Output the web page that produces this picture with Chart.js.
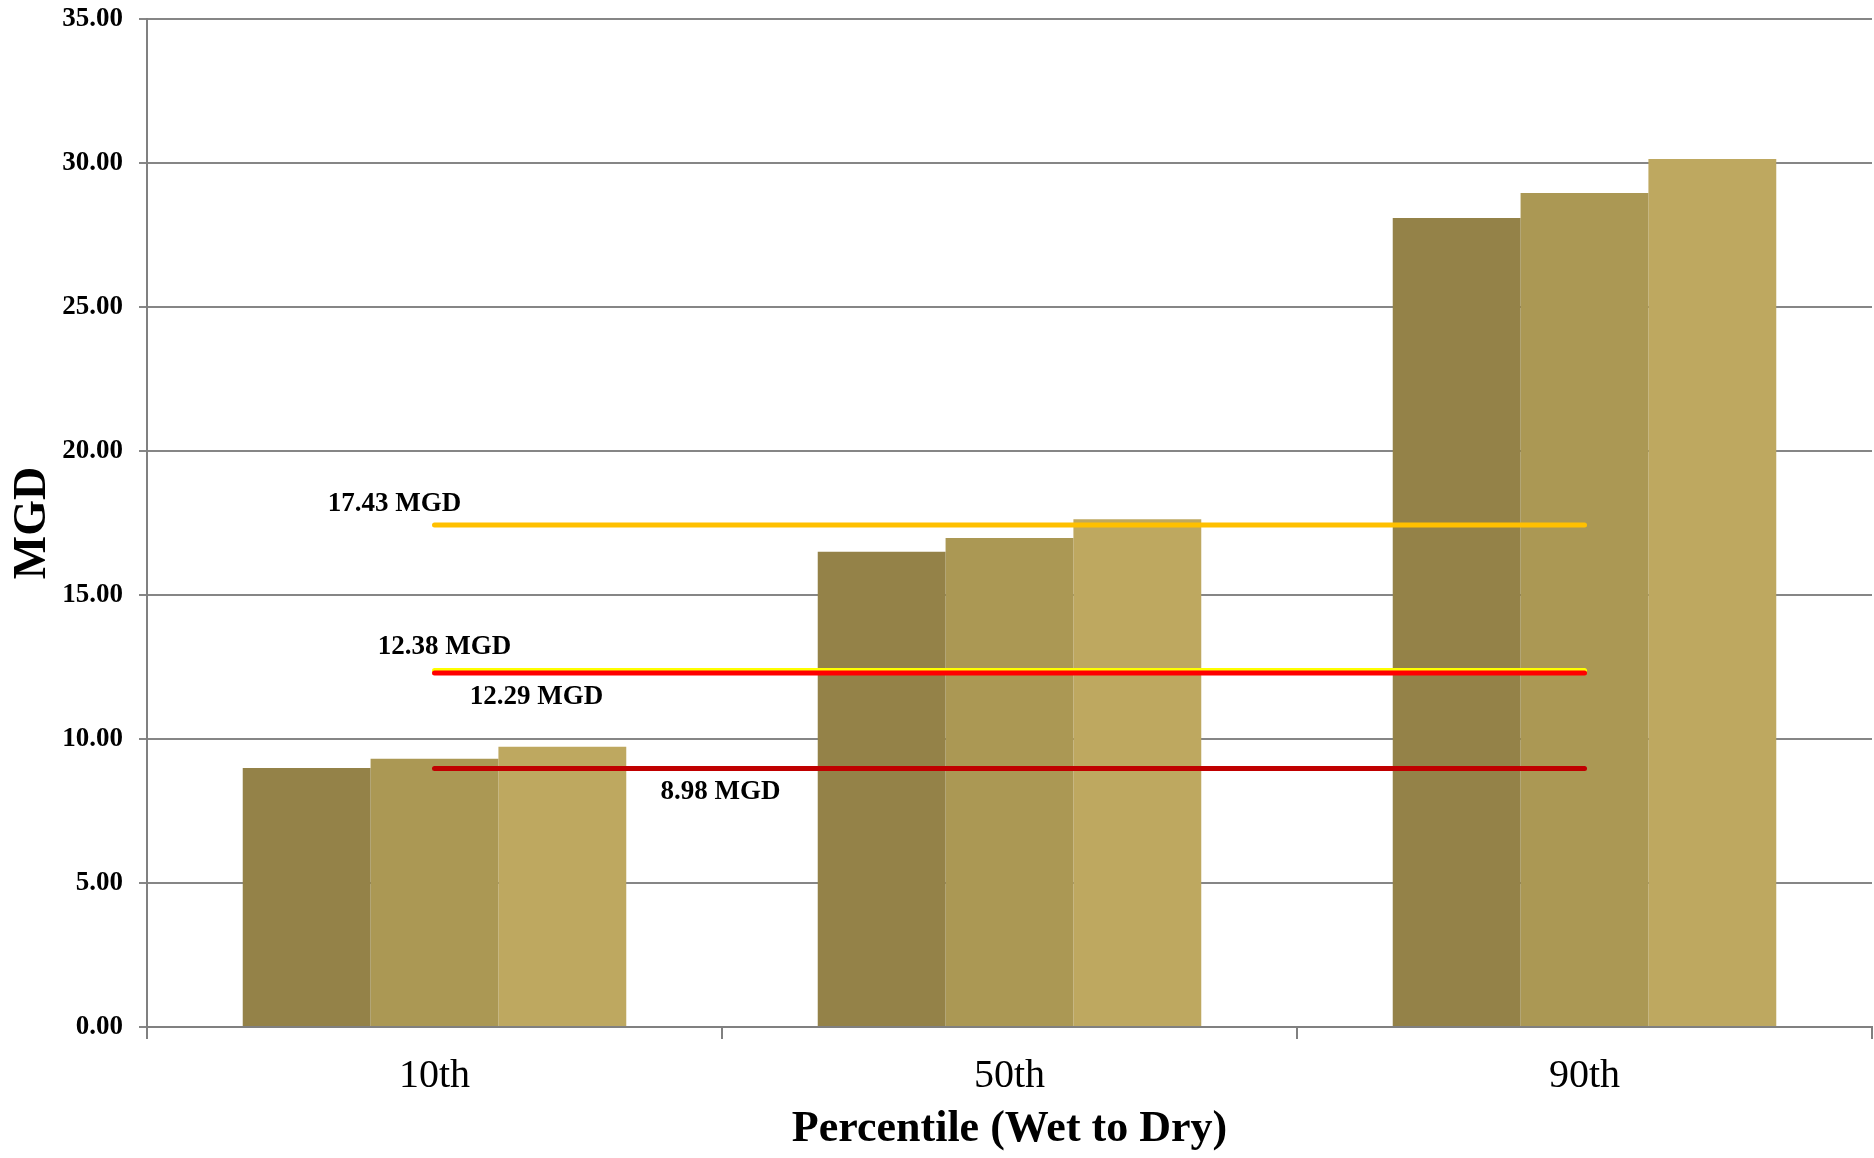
<!DOCTYPE html>
<html lang="en">
<head>
    <meta charset="UTF-8">
    <title>MGD by Percentile</title>
    <script src="https://cdn.jsdelivr.net/npm/chart.js"></script>
    <style>
      html, body { margin: 0; padding: 0; background: #fff; }
      #wrap { width: 1874px; height: 1158px; }
    </style>
</head>
<body>
    <div id="wrap"><canvas id="bar-chart"></canvas></div>
    <script>
      // dados
      const categories = ['10th', '50th', '90th'];
      const serieA = [8.99, 16.50, 28.09];
      const serieB = [9.31, 16.98, 28.96];
      const serieC = [9.73, 17.63, 30.14];
      const lineValues = [17.43, 12.38, 12.29, 8.98];
      const lineLabels = ['17.43 MGD', '12.38 MGD', '12.29 MGD', '8.98 MGD'];
      const yTicks = [0, 5, 10, 15, 20, 25, 30, 35];

      const barColors = ['#948248', '#ab9854', '#bea860'];
      const lineColors = ['#ffc000', '#ffff00', '#ff0000', '#c00000'];
      // deslocamento de cada rotulo em relacao ao inicio da linha (px)
      const labelOffsets = [[-40, -21], [10, -23], [102, 24], [286, 24]];
      const lineOrder = [1, 2, 0, 0];

      const serif = "'Liberation Serif', 'DejaVu Serif', serif";

      const lineSets = lineValues.map((v, i) => ({
        type: 'line',
        label: lineLabels[i],
        data: categories.map(() => v),
        borderColor: lineColors[i],
        borderWidth: 5,
        borderCapStyle: 'round',
        pointRadius: 0,
        fill: false,
        order: lineOrder[i]
      }));

      const barSets = [serieA, serieB, serieC].map((d, i) => ({
        type: 'bar',
        label: 'S' + (i + 1),
        data: d,
        backgroundColor: barColors[i],
        barPercentage: 1,
        categoryPercentage: 0.667,
        order: 5
      }));

      const lineLabelPlugin = {
        id: 'lineLabels',
        afterDatasetsDraw(chart) {
          const ctx = chart.ctx;
          const x = chart.scales.x, y = chart.scales.y;
          ctx.save();
          ctx.font = 'bold 27px ' + serif;
          ctx.fillStyle = '#000';
          ctx.textAlign = 'center';
          ctx.textBaseline = 'middle';
          lineValues.forEach((v, i) => {
            const px = x.getPixelForValue(0) + labelOffsets[i][0];
            const py = y.getPixelForValue(v) + labelOffsets[i][1];
            ctx.fillText(lineLabels[i], px, py);
          });
          ctx.restore();
        }
      };

      new Chart(document.getElementById('bar-chart').getContext('2d'), {
        data: {
          labels: categories,
          datasets: lineSets.concat(barSets)
        },
        options: {
          responsive: true,
          maintainAspectRatio: false,
          animation: false,
          layout: { padding: { top: 19, right: 2, left: 0, bottom: 0 } },
          plugins: {
            legend: { display: false },
            tooltip: { enabled: false }
          },
          scales: {
            x: {
              offset: true,
              grid: {
                offset: true,
                drawOnChartArea: false,
                color: '#808080',
                lineWidth: 2,
                tickLength: 12
              },
              border: { color: '#808080', width: 2 },
              ticks: {
                color: '#000',
                padding: 13,
                font: { family: serif, size: 40 }
              },
              title: {
                display: true,
                text: 'Percentile (Wet to Dry)',
                color: '#000',
                padding: { top: 0, bottom: 2 },
                font: { family: serif, size: 44, weight: 'bold' }
              },
              afterFit(s) { s.height = 131; }
            },
            y: {
              min: 0,
              max: 35,
              afterBuildTicks(s) { s.ticks = yTicks.map(v => ({ value: v })); },
              grid: {
                color: '#868686',
                lineWidth: 2,
                tickLength: 8
              },
              border: { color: '#808080', width: 2 },
              ticks: {
                color: '#000',
                padding: 16,
                font: { family: serif, size: 27, weight: 'bold' },
                callback: v => Number(v).toFixed(2)
              },
              title: {
                display: true,
                text: 'MGD',
                color: '#000',
                padding: { top: 6, bottom: 0 },
                font: { family: serif, size: 46, weight: 'bold' }
              },
              afterFit(s) {
                s.width = 147;
                s.paddingTop = 0;
                s.paddingBottom = 0;
              }
            }
          }
        },
        plugins: [lineLabelPlugin]
      });
    </script>
</body>
</html>
